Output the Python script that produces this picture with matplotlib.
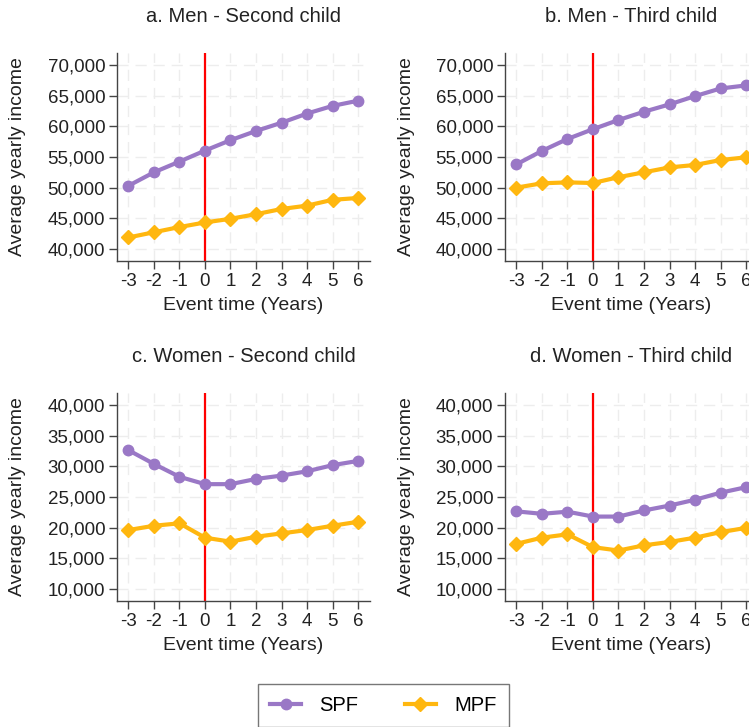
import numpy as np
import matplotlib
matplotlib.use("Agg")
import matplotlib.pyplot as plt
from matplotlib.ticker import StrMethodFormatter
from matplotlib.lines import Line2D

plt.rcParams['font.family'] = ['Liberation Sans', 'DejaVu Sans']
plt.rcParams['axes.unicode_minus'] = False

event_time = [-3, -2, -1, 0, 1, 2, 3, 4, 5, 6]

# panel a: men, second child
spf_men_2 = [50300, 52500, 54250, 56050, 57750, 59250, 60600, 62100, 63350, 64200]
mpf_men_2 = [41850, 42700, 43550, 44300, 44900, 45650, 46500, 47050, 48000, 48300]
# panel b: men, third child
spf_men_3 = [53800, 56000, 57950, 59550, 61050, 62400, 63600, 64950, 66200, 66700]
mpf_men_3 = [50000, 50700, 50850, 50750, 51700, 52500, 53300, 53700, 54500, 54950]
# panel c: women, second child
spf_women_2 = [32650, 30400, 28300, 27100, 27100, 27950, 28500, 29200, 30200, 30900]
mpf_women_2 = [19600, 20300, 20700, 18350, 17700, 18500, 19050, 19600, 20300, 20950]
# panel d: women, third child
spf_women_3 = [22650, 22250, 22600, 21800, 21800, 22800, 23600, 24550, 25700, 26600]
mpf_women_3 = [17350, 18350, 18900, 16800, 16250, 17100, 17650, 18350, 19250, 19950]

titles = ["a. Men - Second child", "b. Men - Third child",
          "c. Women - Second child", "d. Women - Third child"]

purple = '#9a78c6'
gold = '#ffb70f'

W, H = 749, 727
fig = plt.figure(figsize=(W / 100, H / 100), dpi=100)

# axes boxes in pixels: left, top (width/height shared)
boxes = [(117, 53), (505, 53), (117, 393), (505, 393)]
aw, ah = 253, 208

panels = [
    (spf_men_2, mpf_men_2, (38000, 72000), np.arange(40000, 70001, 5000)),
    (spf_men_3, mpf_men_3, (38000, 72000), np.arange(40000, 70001, 5000)),
    (spf_women_2, mpf_women_2, (8000, 42000), np.arange(10000, 40001, 5000)),
    (spf_women_3, mpf_women_3, (8000, 42000), np.arange(10000, 40001, 5000)),
]

for i, (spf, mpf, ylim, yt) in enumerate(panels):
    l, t = boxes[i]
    ax = fig.add_axes([l / W, 1 - (t + ah) / H, aw / W, ah / H])

    ax.grid(True, color='#ededed', lw=1, linestyle=(0, (8, 5)))
    ax.set_axisbelow(True)

    ax.axvline(0, color='red', lw=1.6, zorder=2)
    ax.plot(event_time, spf, color=purple, lw=3, marker='o', ms=7.5, zorder=3)
    ax.plot(event_time, mpf, color=gold, lw=3, marker='D', ms=7, zorder=3)

    ax.set_xlim(-3.45, 6.47)
    ax.set_ylim(*ylim)
    ax.set_xticks(event_time)
    ax.set_xticklabels([str(v) for v in event_time])
    ax.set_yticks(yt)
    ax.yaxis.set_major_formatter(StrMethodFormatter('{x:,.0f}'))

    for s in ['top', 'right']:
        ax.spines[s].set_visible(False)
    for s in ['left', 'bottom']:
        ax.spines[s].set_color('#444444')
        ax.spines[s].set_linewidth(1)
    ax.tick_params(colors='#444444', labelcolor='#222222', labelsize=13.5,
                   length=6, width=1, pad=2.5)

    ax.set_xlabel("Event time (Years)", fontsize=14, color='#222222')
    ax.xaxis.set_label_coords(0.5, -(305 - 261) / ah)
    ax.xaxis.label.set_va('center')
    ax.set_ylabel("Average yearly income", fontsize=14, color='#222222')
    ax.yaxis.set_label_coords(-(117 - 18) / aw, 0.5)
    ax.yaxis.label.set_va('center')

    ax.text(0.5, 1 + (53 - 16) / ah, titles[i], transform=ax.transAxes,
            ha='center', va='center', fontsize=14.5, color='#222222')

handles = [Line2D([], [], color=purple, lw=3, marker='o', ms=7.5),
           Line2D([], [], color=gold, lw=3, marker='D', ms=7)]
leg = fig.legend(handles, ['SPF', 'MPF'], loc='upper left',
                 bbox_to_anchor=(258 / W, 1 - 684 / H), ncol=2,
                 fontsize=14.5, frameon=True, fancybox=False, edgecolor='#555555',
                 borderaxespad=0, borderpad=0.6, handlelength=1.55,
                 handletextpad=0.9, columnspacing=2.3)
leg.get_frame().set_linewidth(1)

fig.savefig('out.png', dpi=100)
